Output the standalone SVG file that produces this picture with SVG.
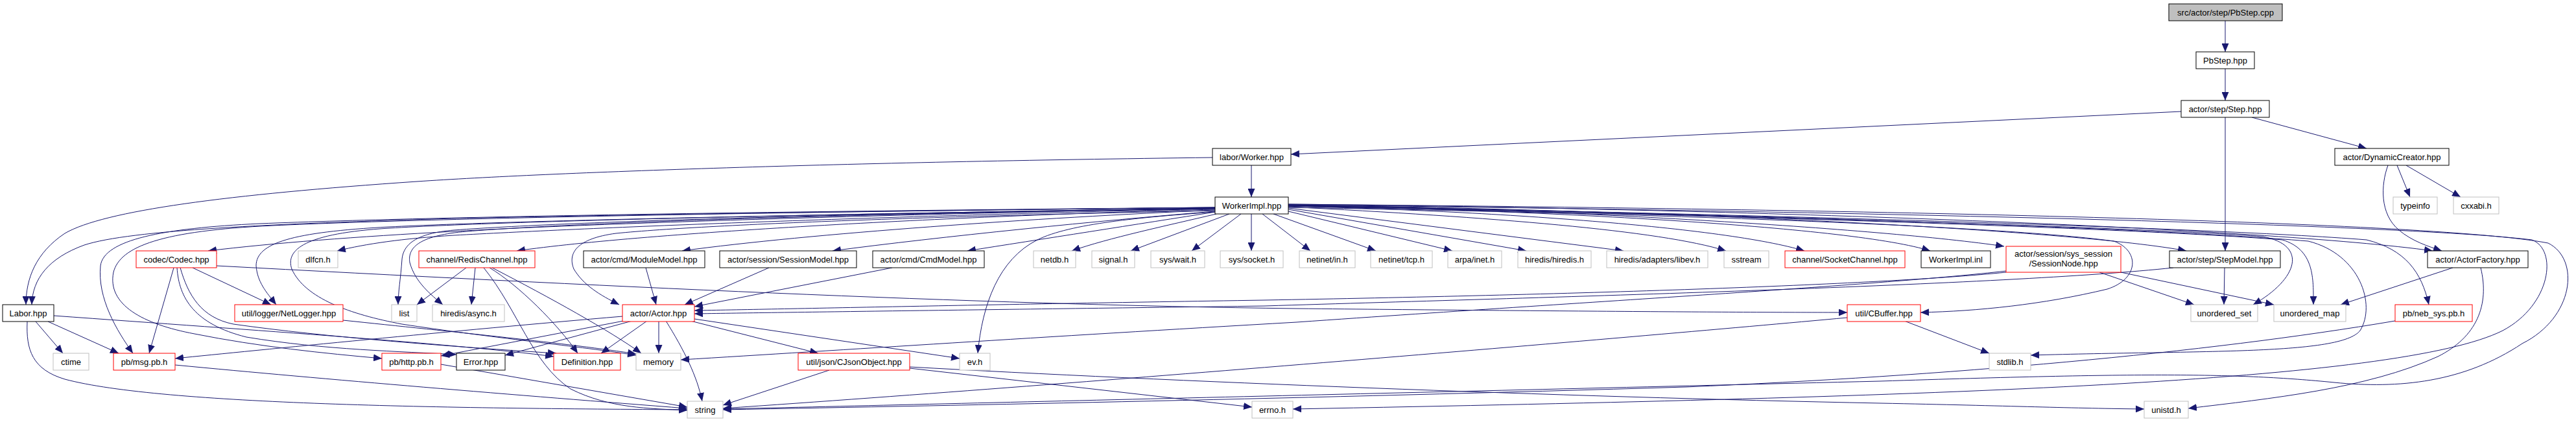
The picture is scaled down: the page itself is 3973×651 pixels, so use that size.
<svg xmlns="http://www.w3.org/2000/svg" width="3973" height="651" viewBox="0 0 3973 651">
<style>
.n rect{fill:#fff;stroke:#000;stroke-width:1}
.n.r rect{stroke:#ff0000}
.n.g rect{stroke:#bfbfbf}
.n.root rect{fill:#bfbfbf}
.n text{font-family:"Liberation Sans",Arial,sans-serif;font-size:13px;text-anchor:middle;fill:#000}
#edges path{fill:none;stroke:#191970;stroke-width:1;marker-end:url(#a)}
</style>
<defs>
<marker id="a" markerUnits="userSpaceOnUse" markerWidth="13" markerHeight="11" viewBox="0 0 13 11" refX="13" refY="5.5" orient="auto"><path d="M0,0L13,5.5L0,11z" fill="#191970"/></marker>
</defs>
<rect width="3973" height="651" fill="#fff"/>
<g id="edges">
<path d="M3432,32 L3432,80"/>
<path d="M3432,106 L3432,155"/>
<path d="M3364,172 L1991,238"/>
<path d="M3473,181 L3650,229"/>
<path d="M3432,181 L3432,387"/>
<path d="M1930,255 L1930,304"/>
<path d="M1870,243 C1300,250 850,266 643,280 C350,300 160,325 100,360 C55,390 40,430 40,470"/>
<path d="M3697,255 L3717,304"/>
<path d="M3711,255 L3795,304"/>
<path d="M3683,255 C3672,285 3670,330 3700,355 C3720,372 3745,380 3766,387"/>
<path d="M1874,320 C1400,325 900,332 700,337 C420,345 200,355 130,378 C75,398 50,430 49,470"/>
<path d="M1874,321 C1400,330 900,345 700,357 C550,365 420,375 321,387"/>
<path d="M1874,322 C1300,335 900,352 700,363 C620,368 565,376 520,387"/>
<path d="M1874,323 C1500,332 1000,358 797,387"/>
<path d="M1874,324 C1600,336 1250,360 1052,387"/>
<path d="M1874,326 C1700,340 1450,365 1284,387"/>
<path d="M1874,327 C1760,345 1600,370 1492,387"/>
<path d="M1876,330 C1800,348 1710,367 1653,387"/>
<path d="M1896,330 L1744,387"/>
<path d="M1914,330 L1838,387"/>
<path d="M1930,330 L1930,387"/>
<path d="M1947,330 L2021,387"/>
<path d="M1964,330 L2122,387"/>
<path d="M1987,326 L2240,387"/>
<path d="M1987,323 L2354,387"/>
<path d="M1987,321 L2504,387"/>
<path d="M1987,319 C2300,335 2560,355 2662,387"/>
<path d="M1987,318 C2300,325 2660,350 2783,387"/>
<path d="M1987,317 C2400,325 2860,350 2977,387"/>
<path d="M1987,316 C2400,322 2900,352 3091,380"/>
<path d="M1987,316 C2600,325 3200,355 3372,387"/>
<path d="M1987,315 C2700,322 3500,352 3752,387"/>
<path d="M1987,318 C2600,330 3300,350 3490,365 C3560,378 3545,430 3475,470"/>
<path d="M1987,318 C2600,330 3300,352 3520,370 C3570,385 3568,430 3568,470"/>
<path d="M1987,317 C2600,328 3300,350 3560,372 C3640,392 3665,470 3640,510 C3610,548 3400,540 3132,548"/>
<path d="M1987,317 C2600,328 3400,350 3650,370 C3710,385 3735,420 3746,470"/>
<path d="M1987,316 C2800,325 3700,345 3905,370 C3945,385 3935,470 3860,510 C3700,590 3000,612 1994,631"/>
<path d="M1987,315 C2800,322 3750,340 3930,375 C3980,400 3970,490 3890,530 C3800,590 3700,600 3600,590 C3450,575 3300,575 2900,588 C2200,605 1500,622 1115,631"/>
<path d="M1987,320 C2600,330 3100,350 3260,372 C3300,386 3300,430 3250,446 C3150,470 3050,480 2962,482"/>
<path d="M1874,321 C1300,330 800,340 600,350 C450,358 395,375 395,410 C397,435 410,450 426,470"/>
<path d="M1874,320 C1300,325 700,333 400,345 C250,352 160,370 155,410 C150,460 180,510 205,545"/>
<path d="M1874,320 C1300,326 700,335 420,348 C250,356 185,380 175,420 C165,470 220,500 300,515 C400,535 500,545 589,553"/>
<path d="M1874,322 C1400,328 900,340 700,355 C640,360 622,378 620,400 C618,430 614,450 614,470"/>
<path d="M1874,322 C1400,328 900,342 720,357 C650,363 628,380 632,405 C640,435 665,455 683,470"/>
<path d="M1874,325 C1500,332 1100,345 950,360 C890,368 875,390 885,415 C900,440 925,455 955,470"/>
<path d="M1874,327 C1760,335 1650,345 1600,370 C1540,400 1515,470 1508,545"/>
<path d="M1874,321 C1300,330 800,340 600,352 C470,360 440,385 450,415 C470,460 540,485 620,500 C750,520 900,535 981,548"/>
<path d="M55,496 L97,545"/>
<path d="M74,496 L183,545"/>
<path d="M42,496 C40,540 50,570 100,585 C250,625 700,630 1060,632"/>
<path d="M83,487 C400,510 700,530 854,550"/>
<path d="M268,413 L230,545"/>
<path d="M297,413 L418,470"/>
<path d="M273,413 C276,460 300,500 380,520 C500,540 620,542 704,547"/>
<path d="M278,413 C290,455 310,490 360,500 C500,520 700,535 858,545"/>
<path d="M334,410 C900,440 1500,470 2000,476 C2400,480 2700,482 2849,482"/>
<path d="M270,563 C500,585 800,610 1060,630"/>
<path d="M680,562 L1060,628"/>
<path d="M529,494 C700,512 880,530 981,546"/>
<path d="M719,413 L643,470"/>
<path d="M733,413 L727,470"/>
<path d="M746,413 C800,480 820,560 880,600 C940,630 1000,630 1060,633"/>
<path d="M755,413 C800,440 860,500 891,545"/>
<path d="M759,413 C850,460 940,510 989,545"/>
<path d="M996,413 L1012,470"/>
<path d="M1186,413 L1056,470"/>
<path d="M1376,413 L1071,473"/>
<path d="M960,488 C700,510 400,540 270,553"/>
<path d="M962,495 L680,549"/>
<path d="M975,495 L779,548"/>
<path d="M998,495 L927,545"/>
<path d="M1016,495 L1016,545"/>
<path d="M1027,495 C1055,540 1075,580 1083,619"/>
<path d="M1065,495 L1262,545"/>
<path d="M1071,492 L1480,553"/>
<path d="M1279,571 L1115,625"/>
<path d="M1403,568 L1931,628"/>
<path d="M1403,566 C1800,588 2400,612 2900,622 C3100,626 3200,630 3307,631"/>
<path d="M3094,420 C2900,440 2400,455 1950,463 C1500,470 1200,477 1071,479"/>
<path d="M3094,418 C2900,440 2500,462 2000,497 C1600,520 1300,540 1050,555"/>
<path d="M3238,420 L3384,470"/>
<path d="M3271,420 L3507,470"/>
<path d="M3352,413 C3100,440 2400,458 1950,472 C1500,478 1200,482 1071,484"/>
<path d="M3431,413 L3430,470"/>
<path d="M3783,413 L3610,470"/>
<path d="M3826,413 C3840,470 3820,520 3760,550 C3650,600 3500,615 3375,630"/>
<path d="M2937,495 L3068,545"/>
<path d="M2849,490 C2500,522 1700,590 1115,630"/>
<path d="M3694,495 C3400,545 3000,580 2600,597 C2000,615 1500,625 1115,632"/>
</g>
<g id="n_pbstep_cpp" class="n root"><rect x="3345" y="6" width="175" height="26"/><text x="3432.5" y="23.5">src/actor/step/PbStep.cpp</text></g>
<g id="n_pbstep_hpp" class="n"><rect x="3387" y="80" width="90" height="26"/><text x="3432" y="97.5">PbStep.hpp</text></g>
<g id="n_step" class="n"><rect x="3364" y="155" width="136" height="26"/><text x="3432" y="172.5">actor/step/Step.hpp</text></g>
<g id="n_worker" class="n"><rect x="1870" y="229" width="121" height="26"/><text x="1930.5" y="246.5">labor/Worker.hpp</text></g>
<g id="n_dyncreator" class="n"><rect x="3601" y="229" width="176" height="26"/><text x="3689" y="246.5">actor/DynamicCreator.hpp</text></g>
<g id="n_workerimpl" class="n"><rect x="1874" y="304" width="113" height="26"/><text x="1930.5" y="321.5">WorkerImpl.hpp</text></g>
<g id="n_typeinfo" class="n g"><rect x="3691" y="304" width="68" height="26"/><text x="3725" y="321.5">typeinfo</text></g>
<g id="n_cxxabi" class="n g"><rect x="3784" y="304" width="70" height="26"/><text x="3819" y="321.5">cxxabi.h</text></g>
<g id="n_codec" class="n r"><rect x="210" y="387" width="124" height="26"/><text x="272" y="404.5">codec/Codec.hpp</text></g>
<g id="n_dlfcn" class="n g"><rect x="460" y="387" width="61" height="26"/><text x="490.5" y="404.5">dlfcn.h</text></g>
<g id="n_redis" class="n r"><rect x="646" y="387" width="179" height="26"/><text x="735.5" y="404.5">channel/RedisChannel.hpp</text></g>
<g id="n_module" class="n"><rect x="900" y="387" width="187" height="26"/><text x="993.5" y="404.5">actor/cmd/ModuleModel.hpp</text></g>
<g id="n_sessionmodel" class="n"><rect x="1110" y="387" width="211" height="26"/><text x="1215.5" y="404.5">actor/session/SessionModel.hpp</text></g>
<g id="n_cmdmodel" class="n"><rect x="1346" y="387" width="172" height="26"/><text x="1432" y="404.5">actor/cmd/CmdModel.hpp</text></g>
<g id="n_netdb" class="n g"><rect x="1594" y="387" width="65" height="26"/><text x="1626.5" y="404.5">netdb.h</text></g>
<g id="n_signal" class="n g"><rect x="1684" y="387" width="66" height="26"/><text x="1717" y="404.5">signal.h</text></g>
<g id="n_syswait" class="n g"><rect x="1775" y="387" width="83" height="26"/><text x="1816.5" y="404.5">sys/wait.h</text></g>
<g id="n_syssocket" class="n g"><rect x="1882" y="387" width="97" height="26"/><text x="1930.5" y="404.5">sys/socket.h</text></g>
<g id="n_netinet_in" class="n g"><rect x="2004" y="387" width="86" height="26"/><text x="2047" y="404.5">netinet/in.h</text></g>
<g id="n_netinet_tcp" class="n g"><rect x="2114" y="387" width="95" height="26"/><text x="2161.5" y="404.5">netinet/tcp.h</text></g>
<g id="n_arpa" class="n g"><rect x="2233" y="387" width="83" height="26"/><text x="2274.5" y="404.5">arpa/inet.h</text></g>
<g id="n_hiredis" class="n g"><rect x="2341" y="387" width="113" height="26"/><text x="2397.5" y="404.5">hiredis/hiredis.h</text></g>
<g id="n_libev" class="n g"><rect x="2478" y="387" width="156" height="26"/><text x="2556" y="404.5">hiredis/adapters/libev.h</text></g>
<g id="n_sstream" class="n g"><rect x="2659" y="387" width="69" height="26"/><text x="2693.5" y="404.5">sstream</text></g>
<g id="n_socketchannel" class="n r"><rect x="2753" y="387" width="185" height="26"/><text x="2845.5" y="404.5">channel/SocketChannel.hpp</text></g>
<g id="n_workerimpl_inl" class="n"><rect x="2963" y="387" width="107" height="26"/><text x="3016.5" y="404.5">WorkerImpl.inl</text></g>
<g id="n_sessionnode" class="n r"><rect x="3094" y="380" width="177" height="40"/><text x="3182.5" y="396">actor/session/sys_session</text><text x="3182.5" y="411">/SessionNode.hpp</text></g>
<g id="n_stepmodel" class="n"><rect x="3346" y="387" width="171" height="26"/><text x="3431.5" y="404.5">actor/step/StepModel.hpp</text></g>
<g id="n_actorfactory" class="n"><rect x="3744" y="387" width="155" height="26"/><text x="3821.5" y="404.5">actor/ActorFactory.hpp</text></g>
<g id="n_labor" class="n"><rect x="4" y="470" width="79" height="26"/><text x="43.5" y="487.5">Labor.hpp</text></g>
<g id="n_netlogger" class="n r"><rect x="362" y="470" width="167" height="26"/><text x="445.5" y="487.5">util/logger/NetLogger.hpp</text></g>
<g id="n_list" class="n g"><rect x="604" y="470" width="39" height="26"/><text x="623.5" y="487.5">list</text></g>
<g id="n_async" class="n g"><rect x="667" y="470" width="111" height="26"/><text x="722.5" y="487.5">hiredis/async.h</text></g>
<g id="n_actor" class="n r"><rect x="960" y="470" width="111" height="26"/><text x="1015.5" y="487.5">actor/Actor.hpp</text></g>
<g id="n_cbuffer" class="n r"><rect x="2849" y="470" width="113" height="26"/><text x="2905.5" y="487.5">util/CBuffer.hpp</text></g>
<g id="n_uset" class="n g"><rect x="3379" y="470" width="103" height="26"/><text x="3430.5" y="487.5">unordered_set</text></g>
<g id="n_umap" class="n g"><rect x="3507" y="470" width="111" height="26"/><text x="3562.5" y="487.5">unordered_map</text></g>
<g id="n_nebsys" class="n r"><rect x="3694" y="470" width="119" height="26"/><text x="3753.5" y="487.5">pb/neb_sys.pb.h</text></g>
<g id="n_ctime" class="n g"><rect x="82" y="545" width="55" height="26"/><text x="109.5" y="562.5">ctime</text></g>
<g id="n_msgpb" class="n r"><rect x="175" y="545" width="95" height="26"/><text x="222.5" y="562.5">pb/msg.pb.h</text></g>
<g id="n_httppb" class="n r"><rect x="589" y="545" width="91" height="26"/><text x="634.5" y="562.5">pb/http.pb.h</text></g>
<g id="n_error" class="n"><rect x="704" y="545" width="75" height="26"/><text x="741.5" y="562.5">Error.hpp</text></g>
<g id="n_definition" class="n r"><rect x="854" y="545" width="103" height="26"/><text x="905.5" y="562.5">Definition.hpp</text></g>
<g id="n_memory" class="n g"><rect x="981" y="545" width="69" height="26"/><text x="1015.5" y="562.5">memory</text></g>
<g id="n_cjson" class="n r"><rect x="1231" y="545" width="172" height="26"/><text x="1317" y="562.5">util/json/CJsonObject.hpp</text></g>
<g id="n_ev" class="n g"><rect x="1480" y="545" width="47" height="26"/><text x="1503.5" y="562.5">ev.h</text></g>
<g id="n_stdlib" class="n g"><rect x="3068" y="545" width="64" height="26"/><text x="3100" y="562.5">stdlib.h</text></g>
<g id="n_string" class="n g"><rect x="1060" y="619" width="55" height="26"/><text x="1087.5" y="636.5">string</text></g>
<g id="n_errno" class="n g"><rect x="1931" y="619" width="63" height="26"/><text x="1962.5" y="636.5">errno.h</text></g>
<g id="n_unistd" class="n g"><rect x="3307" y="619" width="68" height="26"/><text x="3341" y="636.5">unistd.h</text></g>
</svg>
